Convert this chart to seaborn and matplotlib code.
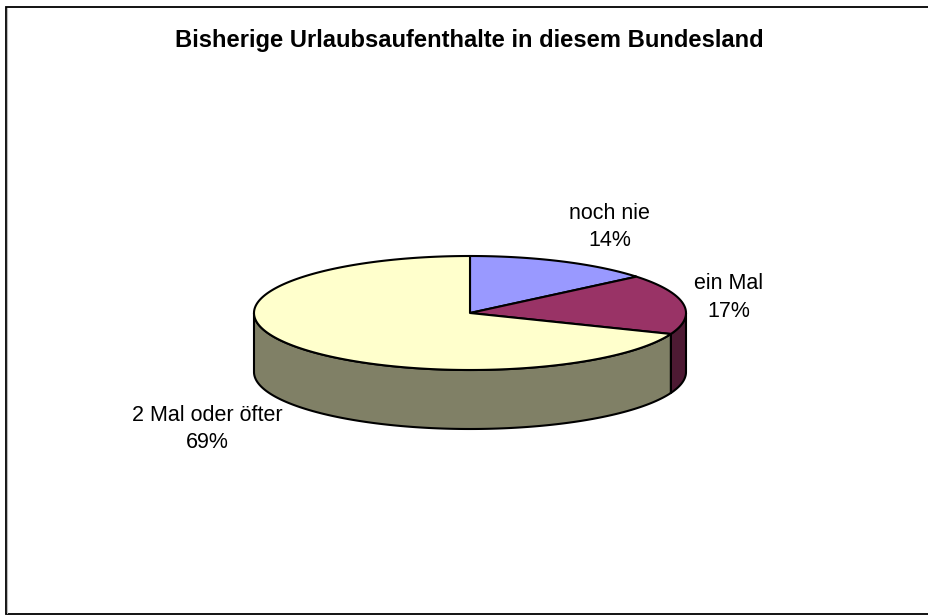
import numpy as np
import pandas as pd
import seaborn as sns
import matplotlib.pyplot as plt

labels = ["noch nie", "ein Mal", "2 Mal oder öfter"]
shares = [14, 17, 69]
top_colors = ["#9999FF", "#993366", "#FFFFCC"]
side_colors = ["#4D4D80", "#4D1A33", "#808066"]
title = "Bisherige Urlaubsaufenthalte in diesem Bundesland"

df = pd.DataFrame({"label": labels, "share": shares, "top": top_colors, "side": side_colors})

sns.set_theme(style="white", font="Liberation Sans")

fig = plt.figure(figsize=(9.29, 6.15), dpi=100)
ax = fig.add_axes([0, 0, 1, 1])
ax.set_xlim(0, 929)
ax.set_ylim(615, 0)
ax.axis("off")

# frame has no right side, the lines run off the picture
ax.plot([929, 6, 6, 929], [7, 7, 614, 614], color="black", lw=1.3, solid_joinstyle="miter")
ax.plot([7.5, 7.5], [8, 613], color="#BBBBBB", lw=0.8)

cx, cy, rx, ry, depth = 470, 313, 216, 57, 59


def pts(a, b):
    t = np.radians(np.linspace(a, b, max(int(abs(b - a)) * 2, 2)))
    return cx + rx * np.sin(t), cy - ry * np.cos(t)


# pie angles, clockwise from 12 o'clock
ends = df["share"].cumsum().to_numpy() * 3.6
starts = np.r_[0, ends[:-1]]

# side walls, only the front half of the ellipse shows
for i in range(len(df)):
    a, b = max(starts[i], 90), min(ends[i], 270)
    if a >= b:
        continue
    x, y = pts(a, b)
    ax.fill(np.r_[x, x[::-1]], np.r_[y, y[::-1] + depth], fc=df["side"][i], ec="black", lw=1.5, zorder=2)

for i in range(len(df)):
    x, y = pts(starts[i], ends[i])
    ax.fill(np.r_[cx, x], np.r_[cy, y], fc=df["top"][i], ec="black", lw=1.5, zorder=3, joinstyle="round")

label_pos = [(609.5, 227), (729, 297.5), (207, 429)]
for i, (lx, ly) in enumerate(label_pos):
    ax.text(lx, ly, f"{df['label'][i]}\n{df['share'][i]}%", ha="center", va="center",
            fontsize=15.5, color="black", linespacing=1.42)

ax.text(469.5, 41, title, ha="center", va="center", fontsize=17.1, fontweight="bold", color="black")

fig.savefig("out.png", dpi=100, facecolor="white")
